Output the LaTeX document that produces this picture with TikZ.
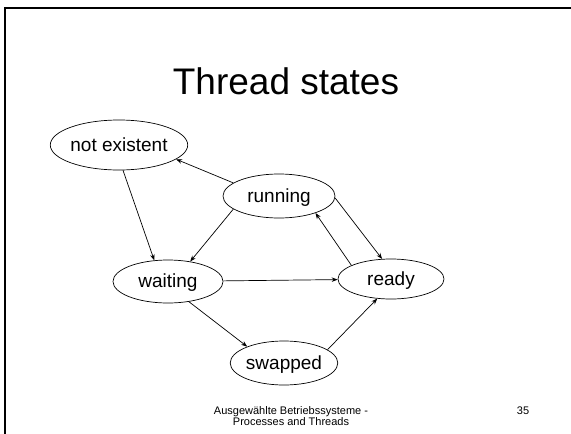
\documentclass[tikz,border=0pt]{standalone}
\usepackage{fontspec}
\setmainfont{Liberation Sans}
\usetikzlibrary{shapes.geometric,arrows.meta}
\begin{document}
\begin{tikzpicture}[x=1pt,y=-1pt,
  state/.style={draw,ellipse,inner sep=0pt,line width=0.7pt,text height=14.5pt,text depth=2.5pt,font=\fontsize{19}{22}\selectfont},
  conn/.style={line width=0.7pt,-{Stealth[length=6pt,width=4.5pt]}}]
\useasboundingbox (0,0) rectangle (571,434);
\draw[line width=2pt] (5,434) -- (5,8.3) -- (571,8.3);
\node[anchor=base,font=\fontsize{37}{40}\selectfont] (title) at (286,94) {Thread states};
\node[state,minimum width=134pt,minimum height=50pt] (ne) at (119,145) {not existent};
\node[state,minimum width=112pt,minimum height=44pt] (run) at (279,196) {running};
\node[state,minimum width=110pt,minimum height=43pt] (wait) at (168,281.5) {waiting};
\node[state,minimum width=106pt,minimum height=40pt] (ready) at (391,279) {ready};
\node[state,minimum width=102pt,minimum height=44pt] (swap) at (284,363) {swapped};
\draw[conn] (run.164) -- (ne.-14);
\draw[conn] (ne.-81) -- (wait.123);
\draw[conn] (run.196) -- (wait.42);
\draw[conn] (wait) -- (ready);
\draw[conn] (run.-2) -- (ready.114);
\draw[conn] (ready.161) -- (run.-25);
\draw[conn] (wait.-44) -- (swap.156);
\draw[conn] (swap.17) -- (ready.-125);
\node[align=center,font=\fontsize{11}{11.5}\selectfont] (foot) at (291,416) {Ausgewählte Betriebssysteme -\\Processes and Threads};
\node[font=\fontsize{11}{11.5}\selectfont] (page) at (523,411) {35};
\end{tikzpicture}
\end{document}
